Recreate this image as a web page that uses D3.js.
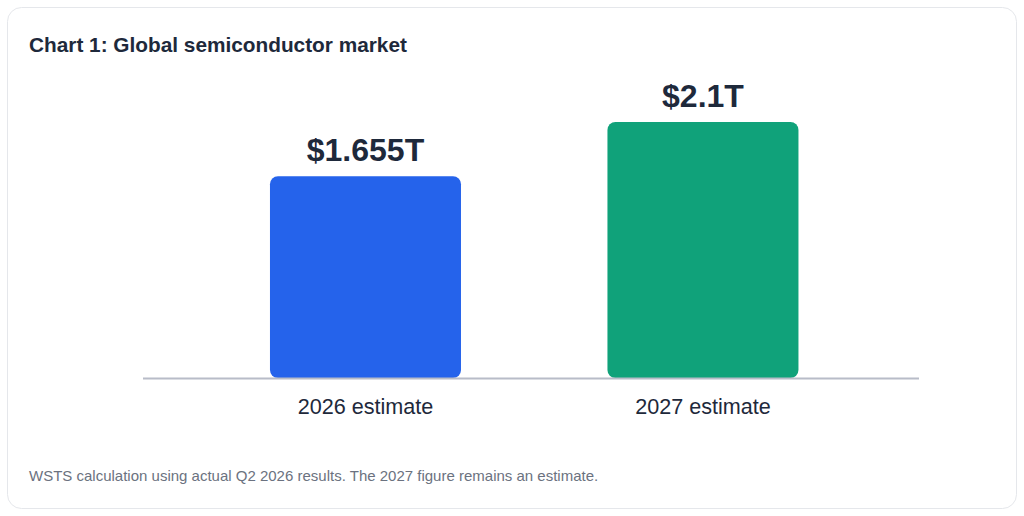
<!DOCTYPE html>
<meta charset="UTF-8">
<style>
    body { margin: 0; background: #fff; }
    svg { display: block; font-family: "Liberation Sans", Arial, sans-serif; }
</style>
<body>
<div id="chart"></div>
<script src="https://d3js.org/d3.v7.min.js"></script>
<script>

    // chart data
    var categories = ["2026 estimate", "2027 estimate"];
    var values = [1.655, 2.1];
    var valueLabels = ["$1.655T", "$2.1T"];
    var barColors = ["#2563eb", "#10a27a"];

    var title = "Chart 1: Global semiconductor market";
    var note = "WSTS calculation using actual Q2 2026 results. The 2027 figure remains an estimate.";

    var width = 1024, height = 516;

    var svg = d3.select("#chart").append("svg")
        .attr("width", width)
        .attr("height", height);

    // card
    svg.append("rect")
        .attr("x", 7.5).attr("y", 7.5)
        .attr("width", 1009).attr("height", 501)
        .attr("rx", 14)
        .attr("fill", "#fff")
        .attr("stroke", "#e5e7eb");

    svg.append("text")
        .attr("x", 29).attr("y", 52)
        .attr("fill", "#1e293b")
        .style("font-size", "20.8px")
        .style("font-weight", "bold")
        .text(title);

    // scales
    var x = d3.scaleBand()
        .domain(categories)
        .range([143, 919])
        .paddingInner(0.434)
        .paddingOuter(0.3667)
        .align(0.513);

    var y = d3.scaleLinear()
        .domain([0, d3.max(values)])
        .range([378, 122]);

    var data = categories.map(function(c, i) {
        return {cat: c, value: values[i], label: valueLabels[i], color: barColors[i]};
    });

    // bars
    svg.selectAll(".bar")
        .data(data)
        .enter().append("rect")
        .attr("class", "bar")
        .attr("x", function(d) { return x(d.cat); })
        .attr("y", function(d) { return y(d.value); })
        .attr("width", x.bandwidth())
        .attr("height", function(d) { return y(0) - y(d.value); })
        .attr("rx", 8)
        .attr("fill", function(d) { return d.color; });

    // baseline
    svg.append("line")
        .attr("x1", x.range()[0]).attr("x2", x.range()[1])
        .attr("y1", y(0) + 0.5).attr("y2", y(0) + 0.5)
        .attr("stroke", "#b8bcc8")
        .attr("stroke-width", 2);

    // value labels
    svg.selectAll(".val")
        .data(data)
        .enter().append("text")
        .attr("class", "val")
        .attr("x", function(d) { return x(d.cat) + x.bandwidth() / 2; })
        .attr("y", function(d) { return y(d.value) - 15; })
        .attr("text-anchor", "middle")
        .attr("fill", "#1e293b")
        .style("font-size", "32px")
        .style("font-weight", "bold")
        .text(function(d) { return d.label; });

    // category labels
    svg.selectAll(".cat")
        .data(data)
        .enter().append("text")
        .attr("class", "cat")
        .attr("x", function(d) { return x(d.cat) + x.bandwidth() / 2; })
        .attr("y", 414)
        .attr("text-anchor", "middle")
        .attr("fill", "#1e293b")
        .style("font-size", "21.6px")
        .text(function(d) { return d.cat; });

    svg.append("text")
        .attr("x", 29).attr("y", 481)
        .attr("fill", "#6b7280")
        .style("font-size", "15px")
        .text(note);

</script>
</body>
